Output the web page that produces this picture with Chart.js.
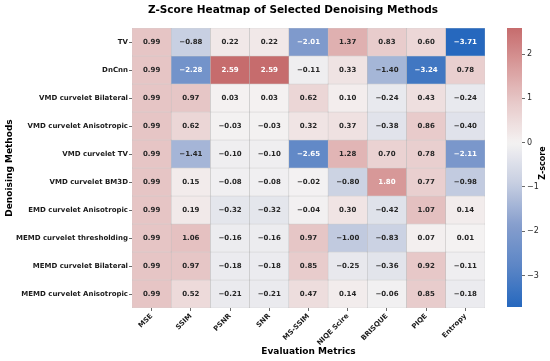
<!DOCTYPE html>
<html><head><meta charset="utf-8">
<script src="https://cdn.jsdelivr.net/npm/chart.js@4.4.1/dist/chart.umd.min.js"></script>
<style>
html,body{margin:0;padding:0;background:#fff;}
#wrap{position:relative;width:550px;height:361px;background:#fff;}
canvas{position:absolute;left:0;top:0;}
</style></head><body>
<div id="wrap"><canvas id="main" width="550" height="361"></canvas><canvas id="cbar" width="550" height="361"></canvas></div>
<script>
const methods = ['TV','DnCnn','VMD curvelet Bilateral','VMD curvelet Anisotropic','VMD curvelet TV','VMD curvelet BM3D','EMD curvelet Anisotropic','MEMD curvelet thresholding','MEMD curvelet Bilateral','MEMD curvelet Anisotropic'];
const metrics = ['MSE','SSIM','PSNR','SNR','MS-SSIM','NIQE Scire','BRISQUE','PIQE','Entropy'];
const rowTV          = [0.99,-0.88, 0.22, 0.22,-2.01, 1.37, 0.83, 0.60,-3.71];
const rowDnCnn       = [0.99,-2.28, 2.59, 2.59,-0.11, 0.33,-1.40,-3.24, 0.78];
const rowVmdBil      = [0.99, 0.97, 0.03, 0.03, 0.62, 0.10,-0.24, 0.43,-0.24];
const rowVmdAniso    = [0.99, 0.62,-0.03,-0.03, 0.32, 0.37,-0.38, 0.86,-0.40];
const rowVmdTV       = [0.99,-1.41,-0.10,-0.10,-2.65, 1.28, 0.70, 0.78,-2.11];
const rowVmdBM3D     = [0.99, 0.15,-0.08,-0.08,-0.02,-0.80, 1.80, 0.77,-0.98];
const rowEmdAniso    = [0.99, 0.19,-0.32,-0.32,-0.04, 0.30,-0.42, 1.07, 0.14];
const rowMemdThresh  = [0.99, 1.06,-0.16,-0.16, 0.97,-1.00,-0.83, 0.07, 0.01];
const rowMemdBil     = [0.99, 0.97,-0.18,-0.18, 0.85,-0.25,-0.36, 0.92,-0.11];
const rowMemdAniso   = [0.99, 0.52,-0.21,-0.21, 0.47, 0.14,-0.06, 0.85,-0.18];
const cbarTicks = [-3,-2,-1,0,1,2];

const zRows = [rowTV,rowDnCnn,rowVmdBil,rowVmdAniso,rowVmdTV,rowVmdBM3D,rowEmdAniso,rowMemdThresh,rowMemdBil,rowMemdAniso];
const allVals = zRows.flat();
const zMin = Math.min(...allVals), zMax = Math.max(...allVals);
const zRange = Math.max(Math.abs(zMin), Math.abs(zMax));

const FONT = "'DejaVu Sans', sans-serif";
const stops = [[0,[38,104,190]],[0.125,[92,134,198]],[0.25,[134,158,205]],[0.375,[198,206,225]],[0.5,[244,242,242]],[0.625,[231,200,200]],[0.75,[214,149,149]],[0.875,[194,97,99]],[1,[169,55,59]]];
function rgbFor(v){
  const t = Math.min(1, Math.max(0, 0.5 + v/(2*zRange)));
  for (let i=1;i<stops.length;i++){
    if (t <= stops[i][0]){
      const [t0,c0]=stops[i-1],[t1,c1]=stops[i];
      const f=(t-t0)/(t1-t0);
      return c0.map((c,k)=>Math.round(c+(c1[k]-c)*f));
    }
  }
  return stops[stops.length-1][1];
}
function colorFor(v){const c=rgbFor(v);return `rgb(${c[0]},${c[1]},${c[2]})`;}
function lum(c){const l=c.map(x=>{x/=255;return x<=0.03928?x/12.92:Math.pow((x+0.055)/1.055,2.4);});return 0.2126*l[0]+0.7152*l[1]+0.0722*l[2];}
function textColor(v){return lum(rgbFor(v))>0.408?'#262626':'#ffffff';}
function fmt(v){return (v<0?'\u2212':'')+Math.abs(v).toFixed(2);}

const annot = {id:'annot', afterDatasetsDraw(chart){
  const ctx=chart.ctx; ctx.save();
  ctx.font=`bold 7px ${FONT}`; ctx.textAlign='center'; ctx.textBaseline='middle';
  zRows.forEach((row,r)=>{
    const meta=chart.getDatasetMeta(r);
    meta.data.forEach((el,c)=>{
      ctx.fillStyle=textColor(row[c]);
      ctx.fillText(fmt(row[c]), el.x, (el.y+el.base)/2+0.5);
    });
  });
  ctx.restore();
}};
const titlePlugin = {id:'ttl', afterDraw(chart){
  const ctx=chart.ctx; ctx.save();
  ctx.font=`bold 10.5px ${FONT}`; ctx.fillStyle='#000'; ctx.textAlign='center'; ctx.textBaseline='middle';
  ctx.fillText('Z-Score Heatmap of Selected Denoising Methods', 293, 10);
  ctx.restore();
}};

new Chart(document.getElementById('main'), {
  type:'bar',
  data:{labels:metrics, datasets:zRows.map((row,r)=>({
    label:methods[r],
    data:row.map(()=>1),
    backgroundColor:row.map(v=>colorFor(v)),
    borderColor:'rgba(160,160,160,0.6)',
    borderWidth:0.5,
    borderSkipped:false,
    barPercentage:1, categoryPercentage:1
  }))},
  options:{
    responsive:false, animation:false, devicePixelRatio:1,
    layout:{padding:{left:0,top:28,right:65,bottom:0}},
    plugins:{legend:{display:false},tooltip:{enabled:false},title:{display:false}},
    scales:{
      x:{stacked:true, offset:true,
        grid:{offset:false, drawOnChartArea:false, tickLength:3, color:'#444', lineWidth:0.8},
        border:{display:false},
        ticks:{maxRotation:45,minRotation:45,autoSkip:false,padding:1,color:'#1a1a1a',font:{family:FONT,size:7,weight:'bold'}},
        title:{display:true,text:'Evaluation Metrics',color:'#000',font:{family:FONT,size:9,weight:'bold'},padding:{top:0,bottom:4}},
        afterFit(s){s.height=53;}
      },
      y:{stacked:true, min:0, max:10, reverse:true,
        afterBuildTicks(s){s.ticks=methods.map((m,i)=>({value:i+0.5}));},
        grid:{drawOnChartArea:false, tickLength:3, color:'#444', lineWidth:0.8},
        border:{display:false},
        ticks:{autoSkip:false,padding:1,color:'#1a1a1a',font:{family:FONT,size:7,weight:'bold'},callback:(v)=>methods[Math.floor(v)]},
        title:{display:true,text:'Denoising Methods',color:'#000',font:{family:FONT,size:9,weight:'bold'},padding:{top:4,bottom:0}},
        afterFit(s){s.width=132;}
      }
    }
  },
  plugins:[annot,titlePlugin]
});

const cbarLabel = {id:'cbl', afterDraw(chart){
  const ctx=chart.ctx; ctx.save();
  ctx.translate(543,163); ctx.rotate(-Math.PI/2);
  ctx.font=`bold 8px ${FONT}`; ctx.fillStyle='#000'; ctx.textAlign='center'; ctx.textBaseline='middle';
  ctx.fillText('Z-score',0,0); ctx.restore();
}};

new Chart(document.getElementById('cbar'), {
  type:'bar',
  data:{labels:['Z-score'], datasets:[{
    data:[[zMin,zMax]],
    backgroundColor:(c)=>{
      const ca=c.chart.chartArea; if(!ca) return 'transparent';
      const g=c.chart.ctx.createLinearGradient(0,ca.bottom,0,ca.top);
      const n=60;
      for(let i=0;i<=n;i++){g.addColorStop(i/n,colorFor(zMin+(zMax-zMin)*i/n));}
      return g;
    },
    borderWidth:0, barPercentage:1, categoryPercentage:1
  }]},
  options:{
    responsive:false, animation:false, devicePixelRatio:1,
    layout:{padding:{left:507,top:28,right:0,bottom:54}},
    plugins:{legend:{display:false},tooltip:{enabled:false}},
    scales:{
      x:{display:false},
      y:{position:'right', min:zMin, max:zMax,
        afterBuildTicks(s){s.ticks=cbarTicks.map(v=>({value:v}));},
        grid:{drawOnChartArea:false,tickLength:3,color:'#444',lineWidth:0.8},
        border:{display:false},
        ticks:{padding:2,color:'#262626',font:{family:FONT,size:8},callback:(v)=>(v<0?'\u2212':'')+Math.abs(v)},
        afterFit(s){s.width=28;}
      }
    }
  },
  plugins:[cbarLabel]
});
</script>
</body></html>
